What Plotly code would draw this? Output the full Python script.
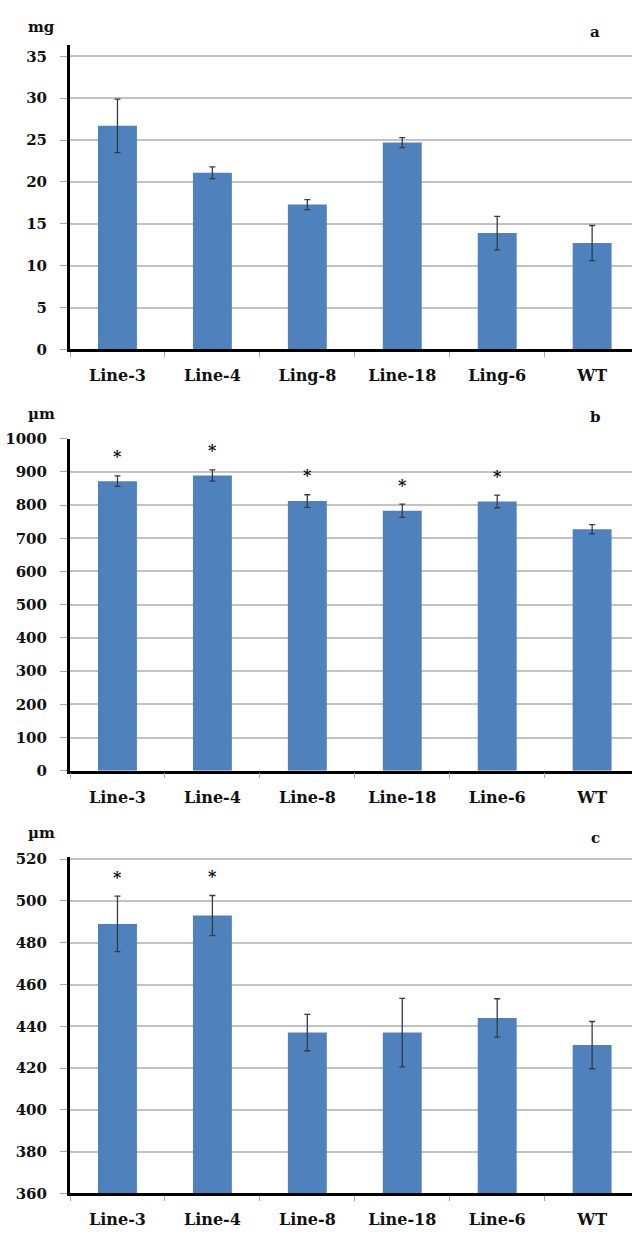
import plotly.graph_objects as go

# ---------------- data ----------------
cats_a = ["Line-3", "Line-4", "Ling-8", "Line-18", "Ling-6", "WT"]
vals_a = [26.7, 21.1, 17.3, 24.7, 13.9, 12.7]
errs_a = [3.2, 0.7, 0.6, 0.6, 2.0, 2.1]
ticks_a = [0, 5, 10, 15, 20, 25, 30, 35]

cats_b = ["Line-3", "Line-4", "Line-8", "Line-18", "Line-6", "WT"]
vals_b = [872, 889, 812, 783, 811, 727]
errs_b = [16, 17, 19, 20, 19, 14]
stars_b = ["*", "*", "*", "*", "*", ""]
ticks_b = [0, 100, 200, 300, 400, 500, 600, 700, 800, 900, 1000]

cats_c = ["Line-3", "Line-4", "Line-8", "Line-18", "Line-6", "WT"]
vals_c = [489, 493, 437, 437, 444, 431]
errs_c = [13.3, 9.6, 8.7, 16.4, 9.2, 11.3]
stars_c = ["*", "*", "", "", "", ""]
ticks_c = [360, 380, 400, 420, 440, 460, 480, 500, 520]

# ---------------- style ----------------
W, H = 632, 1236
BAR = "#4F81BD"
GRID = "#c3c3c3"
FONT = "DejaVu Serif"

def py(pix):
    return (H - pix) / H

panels = [
    dict(cats=cats_a, vals=vals_a, errs=errs_a, stars=None, ticks=ticks_a,
         rng=[0, 36.3], dom=[py(345.5), py(37)], unit="mg", tag="a",
         unit_y=18, tag_y=23, ax="x", ay="y"),
    dict(cats=cats_b, vals=vals_b, errs=errs_b, stars=stars_b, ticks=ticks_b,
         rng=[0, 1000], dom=[py(773), py(436)], unit="µm", tag="b",
         unit_y=411, tag_y=414, ax="x2", ay="y2"),
    dict(cats=cats_c, vals=vals_c, errs=errs_c, stars=stars_c, ticks=ticks_c,
         rng=[360, 520.8], dom=[py(1202), py(861)], unit="µm", tag="c",
         unit_y=836, tag_y=841, ax="x3", ay="y3"),
]

fig = go.Figure()
annotations = []
layout = {}
xdom = [70 / W, 1.0]

for i, p in enumerate(panels):
    fig.add_trace(go.Bar(
        x=p["cats"], y=p["vals"],
        width=0.41, marker=dict(color=BAR, line=dict(width=0)),
        error_y=dict(type="data", array=p["errs"], visible=True,
                     color="#3a3a3a", thickness=1.3, width=3),
        xaxis=p["ax"], yaxis=p["ay"], showlegend=False,
    ))
    sfx = "" if i == 0 else str(i + 1)
    layout["xaxis" + sfx] = dict(
        domain=xdom, anchor="y" + sfx, type="category",
        range=[-0.5, 5.42], showline=True, linecolor="black", linewidth=2.5,
        ticks="outside", tickson="boundaries", ticklen=5, tickcolor="#a8a8a8",
        tickwidth=1.2, showgrid=False, zeroline=False,
        tickvals=p["cats"], ticktext=["<b>%s</b>" % c for c in p["cats"]],
        tickfont=dict(family=FONT, size=16, color="#111"),
        ticklabelstandoff=10, fixedrange=True,
    )
    layout["yaxis" + sfx] = dict(
        domain=p["dom"], anchor="x" + sfx, range=p["rng"],
        tickvals=p["ticks"], ticktext=["<b>%d</b>" % t for t in p["ticks"]],
        showline=True, linecolor="black", linewidth=3,
        ticks="outside", ticklen=7, tickcolor="#a8a8a8", tickwidth=1.2,
        showgrid=True, gridcolor=GRID, gridwidth=1.5, zeroline=False,
        tickfont=dict(family=FONT, size=15, color="#111"),
        ticklabelstandoff=10, fixedrange=True,
    )
    # unit label and panel letter
    annotations.append(dict(
        text="<b>%s</b>" % p["unit"], x=42 / W, y=py(p["unit_y"]),
        xref="paper", yref="paper", showarrow=False,
        font=dict(family=FONT, size=15, color="#111"),
        xanchor="center", yanchor="middle"))
    annotations.append(dict(
        text="<b>%s</b>" % p["tag"], x=595 / W, y=py(p["tag_y"]),
        xref="paper", yref="paper", showarrow=False,
        font=dict(family=FONT, size=15, color="#111"),
        xanchor="center", yanchor="middle"))
    # significance stars
    if p["stars"]:
        for c, v, e, s in zip(p["cats"], p["vals"], p["errs"], p["stars"]):
            if s:
                annotations.append(dict(
                    text="<b>%s</b>" % s, x=c, y=v + e,
                    xref=p["ax"], yref=p["ay"], showarrow=False,
                    yshift=19, font=dict(family=FONT, size=16, color="#111"),
                    xanchor="center", yanchor="middle"))

fig.update_layout(
    width=W, height=H, margin=dict(l=0, r=0, t=0, b=0),
    paper_bgcolor="white", plot_bgcolor="white",
    font=dict(family=FONT),
    annotations=annotations, bargap=0.6, **layout,
)

fig.write_html("out.html")
